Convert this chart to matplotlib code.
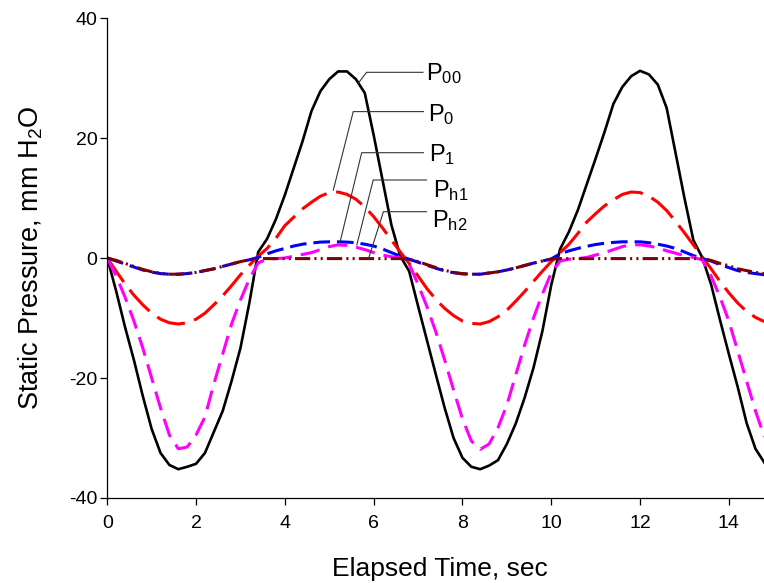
import numpy as np
import matplotlib
matplotlib.use("Agg")
import matplotlib.pyplot as plt

# ==========================================
# DATA
# ==========================================

tiempo = [
    0.0, 0.2, 0.4, 0.6, 0.8, 1.0, 1.2, 1.4, 1.6, 1.8,
    2.0, 2.2, 2.4, 2.6, 2.8, 3.0, 3.2, 3.4, 3.6, 3.8,
    4.0, 4.2, 4.4, 4.6, 4.8, 5.0, 5.2, 5.4, 5.6, 5.8,
    6.0, 6.2, 6.4, 6.6, 6.8, 7.0, 7.2, 7.4, 7.6, 7.8,
    8.0, 8.2, 8.4, 8.6, 8.8, 9.0, 9.2, 9.4, 9.6, 9.8,
    10.0, 10.2, 10.4, 10.6, 10.8, 11.0, 11.2, 11.4, 11.6, 11.8,
    12.0, 12.2, 12.4, 12.6, 12.8, 13.0, 13.2, 13.4, 13.6, 13.8,
    14.0, 14.2, 14.4, 14.6, 14.8,
]

p00 = [
    0, -5.5, -11.5, -17, -23, -28.5, -32.5, -34.5, -35.2, -34.8,
    -34.3, -32.5, -29, -25.5, -20.5, -15, -7.5, 1, 3.2, 6.5,
    10.5, 15, 19.5, 24.5, 27.8, 29.8, 31.1, 31.1, 29.8, 27.5,
    20.5, 13, 5.5, 0.3, -2.2, -8, -13.7, -19.4, -25, -30,
    -33.3, -34.8, -35.2, -34.6, -33.7, -31, -27.6, -23.3, -18.3, -12.2,
    -4.5, 1.5, 4.4, 8, 12.3, 16.6, 21, 25.7, 28.5, 30.3,
    31.2, 30.6, 28.9, 25, 17.5, 10, 3, 0.1, -4.4, -10.3,
    -16, -21.5, -27.5, -31.8, -34.1,
]

p0 = [
    0, -2.2, -4.3, -6.2, -7.8, -9.2, -10.2, -10.8, -11, -10.8,
    -10.2, -9.2, -7.8, -6.3, -4.6, -2.8, -1.2, 0.3, 1.6, 3.3,
    5.4, 6.8, 8.2, 9.3, 10.3, 10.9, 11, 10.6, 9.8, 8.5,
    6.9, 5, 3, 1, -0.9, -3.0, -5.1, -6.9, -8.4, -9.6,
    -10.5, -10.9, -11, -10.6, -9.8, -8.7, -7.2, -5.6, -3.9, -2.2,
    -0.6, 0.9, 2.3, 4.1, 6, 7.4, 8.7, 9.7, 10.6, 11,
    10.9, 10.3, 9.3, 7.9, 6.1, 4.2, 2.2, 0.2, -1.8, -3.9,
    -5.8, -7.5, -8.9, -9.9, -10.6,
]

p1 = [
    0, -0.5, -1.0, -1.5, -2.0, -2.35, -2.6, -2.7, -2.7, -2.6,
    -2.4, -2.1, -1.8, -1.4, -1.0, -0.6, -0.3, 0.1, 0.7, 1.2,
    1.6, 2.0, 2.3, 2.5, 2.65, 2.7, 2.7, 2.65, 2.55, 2.3,
    2.0, 1.5, 0.9, 0.3, -0.2, -0.7, -1.2, -1.7, -2.15, -2.45,
    -2.65, -2.7, -2.7, -2.5, -2.3, -2.0, -1.65, -1.25, -0.85, -0.5,
    -0.15, 0.7, 1.2, 1.6, 1.95, 2.25, 2.45, 2.6, 2.7, 2.7,
    2.7, 2.55, 2.3, 2.0, 1.6, 1.0, 0.4, -0.1, -0.5, -1.1,
    -1.6, -2.1, -2.4, -2.6, -2.8,
]

ph1 = [
    0, -3, -6.5, -10.5, -15, -20, -25, -29.5, -31.8, -31.5,
    -29.5, -26.5, -21, -16, -11, -7, -3.5, -0.8, -0.2, -0.1,
    0, 0.3, 0.6, 0.9, 1.4, 1.9, 2.2, 2.1, 1.8, 1.4,
    0.9, 0.5, 0.2, 0, -1.0, -4.4, -8.1, -12.3, -17, -22,
    -26.8, -30.5, -31.9, -31, -28.3, -24.5, -19.5, -14.5, -10, -6,
    -2.5, -0.5, -0.2, -0.1, 0.1, 0.5, 0.9, 1.4, 1.9, 2.2,
    2.2, 2.0, 1.7, 1.2, 0.8, 0.4, 0.1, -0.3, -3, -6.5,
    -10.5, -15.5, -20.5, -25.5, -29.8,
]

ph2 = [
    0, -0.4, -0.9, -1.4, -1.9, -2.3, -2.55, -2.7, -2.7, -2.6,
    -2.4, -2.1, -1.8, -1.4, -1.0, -0.6, -0.3, -0.1, -0.1, -0.1,
    -0.1, -0.1, -0.1, -0.1, -0.1, -0.1, -0.1, -0.1, -0.1, -0.1,
    -0.1, -0.1, -0.1, -0.1, -0.2, -0.6, -1.1, -1.6, -2.05, -2.4,
    -2.6, -2.7, -2.7, -2.5, -2.3, -2.0, -1.65, -1.25, -0.85, -0.5,
    -0.2, -0.1, -0.1, -0.1, -0.1, -0.1, -0.1, -0.1, -0.1, -0.1,
    -0.1, -0.1, -0.1, -0.1, -0.1, -0.1, -0.1, -0.1, -0.4, -0.9,
    -1.3, -1.8, -2.1, -2.4, -2.6,
]

etiquetas = [r"$P_{00}$", r"$P_{0}$", r"$P_{1}$", r"$P_{h1}$", r"$P_{h2}$"]

# ==========================================
# STYLE
# ==========================================

plt.rcParams["font.family"] = ["Liberation Sans", "DejaVu Sans"]
plt.rcParams["mathtext.fontset"] = "custom"
plt.rcParams["mathtext.rm"] = "Liberation Sans"
plt.rcParams["mathtext.it"] = "Liberation Sans"
plt.rcParams["mathtext.default"] = "regular"
plt.rcParams["lines.scale_dashes"] = False
plt.rcParams["axes.unicode_minus"] = False

series = [
    (p00, "#000000", 1.9, None),
    (p0, "#ff0000", 2.2, (21, 7)),
    (p1, "#0000ff", 2.2, (12, 5)),
    (ph1, "#ff00ff", 2.2, (14, 6.5)),
    (ph2, "#800000", 2.2, (11, 3, 1.5, 3, 1.5, 3)),
]

# leader lines: (curve point, elbow, end), text anchor  -- layout only
lideres = [
    ((5.65, 29.1), (5.84, 30.95), (7.11, 30.95), (7.19, 29.6)),
    ((5.09, 11.3), (5.54, 24.4), (7.12, 24.4), (7.23, 22.9)),
    ((5.24, 2.55), (5.73, 17.55), (7.12, 17.55), (7.25, 16.2)),
    ((5.62, 2.17), (5.99, 13.0), (7.19, 13.0), (7.34, 10.1)),
    ((5.88, -0.2), (6.22, 7.72), (7.19, 7.72), (7.32, 5.1)),
]

# ==========================================
# PLOT
# ==========================================

fig = plt.figure(figsize=(7.64, 5.83), dpi=100)
# the axis runs to 15 s, a little past the right edge of the picture
ax = fig.add_axes([0.1404, 0.1458, 0.8717, 0.8233])

for valores, color, lw, dashes in series:
    linea, = ax.plot(tiempo, valores, color=color, linewidth=lw)
    if dashes is not None:
        linea.set_dashes(dashes)

for (p_curva, p_codo, p_fin, p_txt), texto in zip(lideres, etiquetas):
    ax.plot([p_curva[0], p_codo[0], p_fin[0]],
            [p_curva[1], p_codo[1], p_fin[1]],
            color="#333333", linewidth=0.8, clip_on=False)
    ax.text(p_txt[0], p_txt[1], texto, fontsize=17,
            ha="left", va="baseline")

ax.set_xlim(0, 15)
ax.set_ylim(-40, 40)
ax.set_xticks(range(0, 15, 2))
ax.set_yticks([-40, -20, 0, 20, 40])

ax.spines["top"].set_visible(False)
ax.spines["right"].set_visible(False)
for lado in ["left", "bottom"]:
    ax.spines[lado].set_linewidth(0.9)

ax.tick_params(direction="out", length=5, width=0.9, labelsize=14)
ax.tick_params(axis="x", pad=7)
ax.tick_params(axis="y", pad=2)

ax.set_xlabel("Elapsed Time, sec", fontsize=19)
ax.set_ylabel(r"Static Pressure, mm H$_2$O", fontsize=19.5)
ax.xaxis.set_label_coords(0.5, -0.122)
ax.yaxis.set_label_coords(-0.094, 0.5)

fig.savefig("out.png", dpi=100)
